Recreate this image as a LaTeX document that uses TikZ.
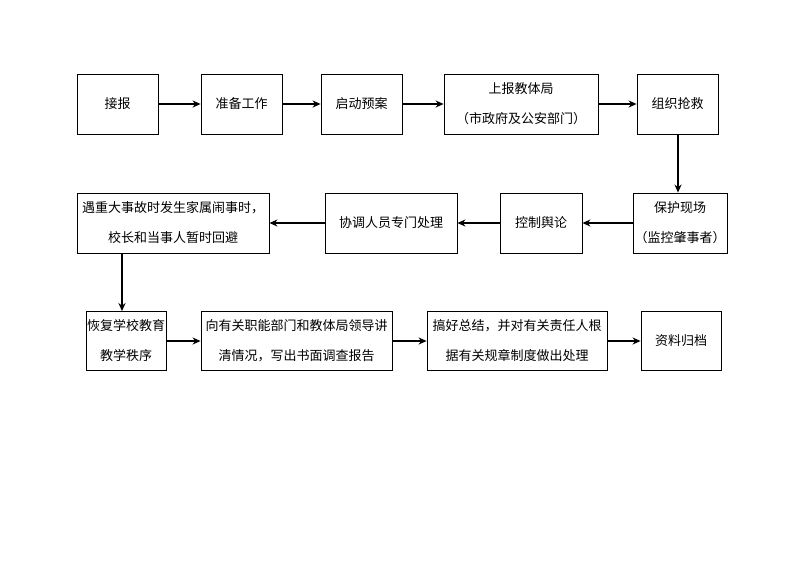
\documentclass[tikz,border=0pt]{standalone}
\usepackage{fontspec}
\newfontfamily\cjk{Noto Sans CJK SC}
\usetikzlibrary{arrows.meta}

\begin{document}
\begin{tikzpicture}[x=1pt,y=-1pt,
  stepbox/.style={draw,line width=0.8pt,inner sep=0pt,align=center,
    font=\cjk\fontsize{13}{30}\selectfont},
  flow/.style={-{Stealth[length=8pt,width=7pt,inset=2.5pt]},line width=1.6pt}]
\useasboundingbox (0,0) rectangle (800,566);
% first row
\node[stepbox,minimum width=81,minimum height=60] (receive) at (117.5,104) {接报};
\node[stepbox,minimum width=81,minimum height=60] (prepare) at (241.5,104) {准备工作};
\node[stepbox,minimum width=81,minimum height=60] (start) at (361.5,104) {启动预案};
\node[stepbox,minimum width=154,minimum height=60] (inform) at (521,104) {上报教体局\\（市政府及公安部门）};
\node[stepbox,minimum width=81,minimum height=60] (rescue) at (677.5,104) {组织抢救};
% second row
\node[stepbox,minimum width=94,minimum height=60] (protect) at (680,223) {保护现场\\（监控肇事者）};
\node[stepbox,minimum width=82,minimum height=60] (control) at (541,223) {控制舆论};
\node[stepbox,minimum width=132,minimum height=60] (liaise) at (391,223) {协调人员专门处理};
\node[stepbox,minimum width=192,minimum height=60] (avoid) at (173,223) {遇重大事故时发生家属闹事时，\\校长和当事人暂时回避};
% third row
\node[stepbox,minimum width=80,minimum height=59] (resume) at (126,341) {恢复学校教育\\教学秩序};
\node[stepbox,minimum width=191,minimum height=59] (brief) at (296.5,341) {向有关职能部门和教体局领导讲\\清情况，写出书面调查报告};
\node[stepbox,minimum width=180,minimum height=59] (summary) at (517,341) {搞好总结，并对有关责任人根\\据有关规章制度做出处理};
\node[stepbox,minimum width=80,minimum height=59] (archive) at (681,341) {资料归档};

\foreach \a/\b in {receive/prepare,prepare/start,start/inform,inform/rescue,
    protect/control,control/liaise,liaise/avoid,
    resume/brief,brief/summary,summary/archive}
  \draw[flow] (\a) -- (\b);
\draw[flow] ([xshift=0.5pt]rescue.south) -- ([xshift=0.5pt]rescue.south |- protect.north);
\draw[flow] ([xshift=-4pt]resume.north |- avoid.south) -- ([xshift=-4pt]resume.north);
\end{tikzpicture}
\end{document}
